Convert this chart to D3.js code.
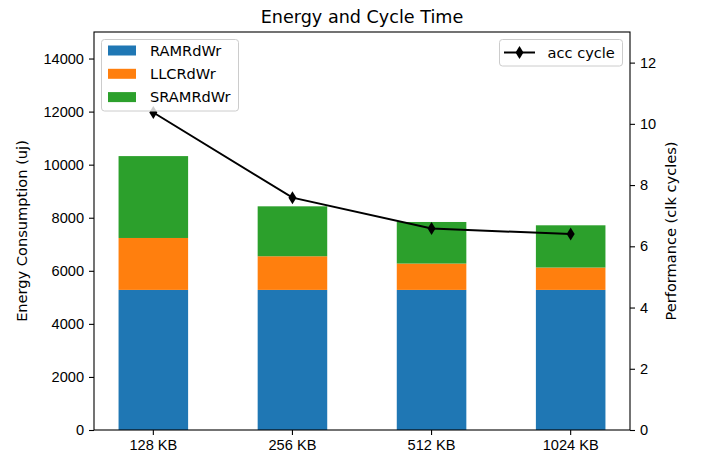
<!DOCTYPE html>
<html>
<head>
<meta charset="utf-8">
<script src="https://cdn.jsdelivr.net/npm/d3@7"></script>
<style>
  body { margin: 0; background: #fff; }
  svg { font-family: 'DejaVu Sans', sans-serif; }
  .tick text { font-size: 14.6px; fill: #000; }
</style>
</head>
<body>
<div id="root"></div>
<script>
// chart data
const categories = ['128 KB', '256 KB', '512 KB', '1024 KB']
const ramRdWr = [5280, 5280, 5280, 5280]
const llcRdWr = [1957, 1268, 993, 843]
const sramRdWr = [3086, 1882, 1567, 1592]
const accCycle = [10.37, 7.59, 6.58, 6.40]
const seriesNames = ['RAMRdWr', 'LLCRdWr', 'SRAMRdWr']
const seriesColors = ['#1f77b4', '#ff7f0e', '#2ca02c']
const leftTicks = [0, 2000, 4000, 6000, 8000, 10000, 12000, 14000]
const rightTicks = [0, 2, 4, 6, 8, 10, 12]

const dimensions = {
  width: 702,
  height: 460,
  margin: { top: 32, right: 72, bottom: 30, left: 94 }
}
const innerW = dimensions.width - dimensions.margin.left - dimensions.margin.right
const innerH = dimensions.height - dimensions.margin.top - dimensions.margin.bottom
const fontSize = '14.6px'

const svg = d3.select('#root').append('svg')
  .attr('width', dimensions.width)
  .attr('height', dimensions.height)

const bounds = svg.append('g')
  .attr('transform', `translate(${dimensions.margin.left}, ${dimensions.margin.top})`)

const xScale = d3.scaleBand()
  .domain(categories)
  .range([0, innerW])
  .paddingInner(0.5)
  .paddingOuter(0.1765)

const yLeft = d3.scaleLinear().domain([0, 15000]).range([innerH, 0])
const yRight = d3.scaleLinear().domain([0, 13]).range([innerH, 0])

// stack the bars
const table = categories.map((c, i) => ({
  cat: c,
  RAMRdWr: ramRdWr[i],
  LLCRdWr: llcRdWr[i],
  SRAMRdWr: sramRdWr[i]
}))
const stacked = d3.stack().keys(seriesNames)(table)

bounds.selectAll('g.layer')
  .data(stacked)
  .join('g')
  .attr('class', 'layer')
  .attr('fill', (d, i) => seriesColors[i])
  .selectAll('rect')
  .data(d => d)
  .join('rect')
  .attr('x', d => xScale(d.data.cat))
  .attr('y', d => yLeft(d[1]))
  .attr('width', xScale.bandwidth())
  .attr('height', d => yLeft(d[0]) - yLeft(d[1]))

// axes
const tickSize = 5
const xAxis = bounds.append('g')
  .attr('transform', `translate(0, ${innerH})`)
  .call(d3.axisBottom(xScale).tickSize(tickSize).tickPadding(4.5).tickSizeOuter(0))
const yAxisL = bounds.append('g')
  .call(d3.axisLeft(yLeft).tickValues(leftTicks).tickFormat(d3.format('d')).tickSize(tickSize).tickPadding(5).tickSizeOuter(0))
const yAxisR = bounds.append('g')
  .attr('transform', `translate(${innerW}, 0)`)
  .call(d3.axisRight(yRight).tickValues(rightTicks).tickSize(tickSize).tickPadding(5).tickSizeOuter(0))

;[xAxis, yAxisL, yAxisR].forEach(a => {
  a.selectAll('.domain').remove()
  a.selectAll('.tick line').attr('stroke', '#000').attr('stroke-width', 1.1)
  a.selectAll('text').attr('font-family', null).attr('font-size', null)
})

// frame
bounds.append('rect')
  .attr('width', innerW)
  .attr('height', innerH)
  .attr('fill', 'none')
  .attr('stroke', '#000')
  .attr('stroke-width', 1.1)

// left legend
function legendBox (g, x, y, w, h) {
  g.append('rect')
    .attr('x', x).attr('y', y)
    .attr('width', w).attr('height', h)
    .attr('rx', 3)
    .attr('fill', 'rgba(255,255,255,0.8)')
    .attr('stroke', '#cccccc')
    .attr('stroke-width', 1)
}
const legL = svg.append('g')
legendBox(legL, 101.5, 39.5, 137, 71.5)
seriesNames.forEach((name, i) => {
  const cy = 50.5 + i * 23.3
  legL.append('rect')
    .attr('x', 108).attr('y', cy - 5)
    .attr('width', 28).attr('height', 10)
    .attr('fill', seriesColors[i])
  legL.append('text')
    .attr('x', 150).attr('y', cy + 5.3)
    .attr('font-size', fontSize)
    .text(name)
})

// line on right axis
const xc = d => xScale(d) + xScale.bandwidth() / 2
const diamond = 'M0,-6.5L4,0L0,6.5L-4,0Z'
bounds.append('path')
  .datum(accCycle)
  .attr('fill', 'none')
  .attr('stroke', '#000')
  .attr('stroke-width', 2)
  .attr('d', d3.line().x((d, i) => xc(categories[i])).y(d => yRight(d)))
bounds.selectAll('path.marker')
  .data(accCycle)
  .join('path')
  .attr('class', 'marker')
  .attr('transform', (d, i) => `translate(${xc(categories[i])}, ${yRight(d)})`)
  .attr('d', diamond)
  .attr('fill', '#000')

// right legend
const legR = svg.append('g')
legendBox(legR, 499.5, 39.5, 123, 26.5)
legR.append('line')
  .attr('x1', 504).attr('x2', 535).attr('y1', 52.5).attr('y2', 52.5)
  .attr('stroke', '#000').attr('stroke-width', 2)
legR.append('path')
  .attr('transform', 'translate(519.5, 52.5)')
  .attr('d', diamond)
legR.append('text')
  .attr('x', 547.5).attr('y', 57.8)
  .attr('font-size', fontSize)
  .text('acc cycle')

// title and axis labels
svg.append('text')
  .attr('x', dimensions.margin.left + innerW / 2)
  .attr('y', 23)
  .attr('text-anchor', 'middle')
  .attr('font-size', '17.6px')
  .text('Energy and Cycle Time')

svg.append('text')
  .attr('transform', `translate(27, ${dimensions.margin.top + innerH / 2}) rotate(-90)`)
  .attr('text-anchor', 'middle')
  .attr('font-size', fontSize)
  .text('Energy Consumption (uj)')

svg.append('text')
  .attr('transform', `translate(665, ${dimensions.margin.top + innerH / 2}) rotate(-90)`)
  .attr('text-anchor', 'middle')
  .attr('dominant-baseline', 'hanging')
  .attr('font-size', fontSize)
  .text('Performance (clk cycles)')
</script>
</body>
</html>
